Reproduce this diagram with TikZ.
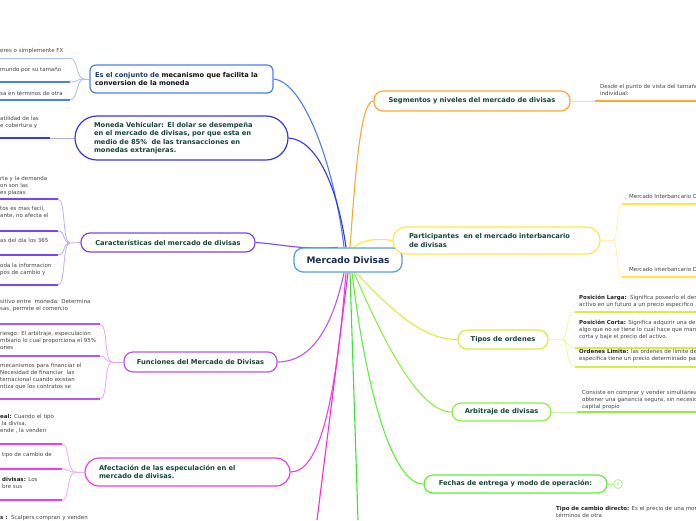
\documentclass[tikz,border=0pt]{standalone}
\usepackage{fontspec}
\setmainfont{DejaVu Sans}
\usetikzlibrary{backgrounds}
\definecolor{boxtext}{HTML}{17463A}
\definecolor{itemtext}{HTML}{444444}
\definecolor{cc}{HTML}{5AA0D8}
\definecolor{cnavy}{HTML}{1B2B55}
\definecolor{ces}{HTML}{4A7EF5}
\definecolor{cesl}{HTML}{A8BEF8}
\definecolor{cmon}{HTML}{3535EC}
\definecolor{cmonl}{HTML}{B0B0F5}
\definecolor{ccar}{HTML}{7D45EE}
\definecolor{ccarl}{HTML}{C4A8F8}
\definecolor{cfun}{HTML}{BB55F0}
\definecolor{cfunl}{HTML}{E2A8F8}
\definecolor{caf}{HTML}{EE3CEE}
\definecolor{cafl}{HTML}{F8A8F8}
\definecolor{cmag}{HTML}{FF2AD0}
\definecolor{cgr}{HTML}{33E833}
\definecolor{cfe}{HTML}{5EF03A}
\definecolor{cfel}{HTML}{A8F890}
\definecolor{car}{HTML}{8EF03E}
\definecolor{carl}{HTML}{C8F8A8}
\definecolor{cti}{HTML}{D4F03C}
\definecolor{ctil}{HTML}{EAF8A8}
\definecolor{cpa}{HTML}{FFE844}
\definecolor{cpal}{HTML}{FFF2A8}
\definecolor{cse}{HTML}{FFA830}
\definecolor{csel}{HTML}{FFD8A0}
\tikzset{
  box/.style={draw, rounded corners=9pt, line width=1.2pt, fill=white,
    font=\fontsize{6.7}{8.3}\selectfont\bfseries, text=boxtext,
    inner xsep=5pt, inner ysep=0pt, align=center},
  cbox/.style={draw=cc, rounded corners=9pt, line width=1.3pt, fill=white,
    font=\fontsize{9}{11}\selectfont\bfseries, text=cnavy,
    minimum width=108pt, minimum height=24pt, inner sep=0pt},
  itm/.style={anchor=north west, inner sep=0pt, align=left,
    font=\fontsize{5.5}{7}\selectfont, text=itemtext},
  conn/.style={line width=1.1pt},
  sub/.style={line width=0.8pt},
  thk/.style={line width=2pt},
}
\begin{document}
\begin{tikzpicture}[x=1pt,y=-1pt]
\useasboundingbox (0,0) rectangle (696,520);
\clip (0,0) rectangle (696,520);

% ---------- nodes ----------
\node[cbox] (c) at (348,260) {Mercado Divisas};

\node[box, draw=ces, rounded corners=6pt, text width=173pt, minimum height=28pt, align=left] (es) at (181.5,79)
  {\textcolor[HTML]{1A3F6B}{Es el conjunto de} \textcolor[HTML]{111111}{mecanismo que facilita la}\\\textcolor[HTML]{111111}{conversion de la moneda}};
\node[box, draw=cmon, rounded corners=22pt, inner xsep=19pt, text width=175pt, minimum height=44pt, align=left] (mon) at (181.5,138)
  {Moneda Vehicular: El dolar se desempeña\\en el mercado de divisas, por que esta en\\medio de 85\%\ \ de las transacciones en\\monedas extranjeras.};
\node[box, draw=ccar, text width=164pt, minimum height=19pt] (car) at (168,242.5)
  {Características del mercado de divisas};
\node[box, draw=cfun, text width=143pt, minimum height=20pt] (fun) at (200.5,362)
  {Funciones del Mercado de Divisas};
\node[box, draw=caf, rounded corners=14pt, inner xsep=14pt, text width=177pt, minimum height=28pt, align=left] (af) at (187.5,472)
  {Afectación de las especulación en el\\mercado de divisas.};
\node[box, draw=cse, text width=186pt, minimum height=20pt] (se) at (472,101)
  {Segmentos y niveles del mercado de divisas};
\node[box, draw=cpa, rounded corners=13pt, inner xsep=16pt, text width=175pt, minimum height=27pt, align=left] (pa) at (496.5,240.5)
  {Participantes\ \ en el mercado interbancario\\de divisas};
\node[box, draw=cti, text width=80pt, minimum height=19pt] (ti) at (503,339.5)
  {Tipos de ordenes};
\node[box, draw=car, text width=89pt, minimum height=18pt] (ar) at (501.5,412)
  {Arbitraje de divisas};
\node[box, draw=cfe, text width=173pt, minimum height=18pt] (fe) at (515.5,484)
  {Fechas de entrega y modo de operación:};
\node[circle, draw=cfel, line width=0.8pt, fill=white, minimum size=9pt, inner sep=0pt,
  font=\fontsize{4}{4}\selectfont\bfseries, text=cfel] (fc) at (618,484) {8};

% ---------- main connectors ----------
\coordinate (endm) at (317,520);
\coordinate (endg) at (358,520);
\begin{scope}[on background layer]
\draw[conn, ces] ([xshift=-4pt]c.north) .. controls (335,170) and (305,82) .. (es.east);
\draw[conn, cmon] ([xshift=-2pt]c.north) .. controls (338,190) and (318,140) .. (mon.east);
\draw[conn, ccar] ([xshift=-10pt]c.north) .. controls (300,250) and (280,244) .. (car.east);
\draw[conn, cfun] ([xshift=-4pt]c.south) .. controls (332,330) and (310,362) .. (fun.east);
\draw[conn, caf] ([xshift=-2pt]c.south) .. controls (336,400) and (320,472) .. (af.east);
\draw[conn, cmag] (c.south) -- (endm);
\draw[conn, cgr] ([xshift=2pt]c.south) -- (endg);
\draw[conn, cfe] ([xshift=4pt]c.south) .. controls (366,390) and (392,484) .. (fe.west);
\draw[conn, car] ([xshift=6pt]c.south) .. controls (385,345) and (420,412) .. (ar.west);
\draw[conn, cti] ([xshift=8pt]c.south) .. controls (400,320) and (428,339.5) .. (ti.west);
\draw[conn, cpa] ([xshift=6pt]c.north) .. controls (362,240) and (375,238) .. (pa.west);
\draw[conn, cse] ([xshift=2pt]c.north) .. controls (355,180) and (360,101) .. (se.west);
\draw[sub, cfel] (fe.east) -- (fc.west);
\end{scope}

% ---------- Es el conjunto ----------
\coordinate (ej) at (84,79);
\coordinate (e1) at (70,58); \coordinate (e1l) at (0,58);
\coordinate (e2) at (70,82); \coordinate (e2l) at (0,82);
\coordinate (e3) at (70,100); \coordinate (e3l) at (0,100);
\draw[sub, cesl] (es.west) -- (ej);
\foreach \n in {e1,e2,e3}{\draw[sub, cesl] (ej) .. controls (76,79) and (78,0|-\n) .. (\n);}
\draw[sub, cesl] (e1) -- (e1l);
\draw[thk, ces] (e2) -- (e2l);
\draw[thk, ces] (e3) -- (e3l);
\node[itm] (et1) at (0,48) {eres o simplemente FX};
\node[itm] (et2) at (0,67) {mundo por su tamaño};
\node[itm] (et3) at (0,90.5) {sa en términos de otra};

% ---------- Moneda ----------
\coordinate (m1) at (50,138); \coordinate (m1l) at (0,138);
\draw[sub, cmonl] (mon.west) -- (m1);
\draw[thk, cmon] (m1) -- (m1l);
\node[itm] (mt1) at (0,116.5) {atilidad de las\\e cobertura y};

% ---------- Caracteristicas ----------
\coordinate (cj) at (70,243);
\coordinate (c1) at (58,199); \coordinate (c1l) at (0,199);
\coordinate (c2) at (58,231); \coordinate (c2l) at (0,231);
\coordinate (c3) at (58,255); \coordinate (c3l) at (0,255);
\coordinate (c4) at (58,285); \coordinate (c4l) at (0,285);
\draw[sub, ccarl] (car.west) -- (cj);
\foreach \n in {c1,c2,c3,c4}{
  \draw[sub, ccarl] (cj) .. controls (62,243) and (66,0|-\n) .. (\n);
  \draw[thk, ccar] (\n) -- (\n l);}
\node[itm] (ct1) at (0,176.5) {rta y la demanda\\on son las\\es plazas};
\node[itm] (ct2) at (0,206.5) {tos es mas facil,\\ante, no afecta el};
\node[itm] (ct3) at (0,238.5) {as del dia los 365};
\node[itm] (ct4) at (0,263.5) {oda la informacion\\pos de cambio y};

% ---------- Funciones ----------
\coordinate (fj) at (112,362);
\coordinate (f1) at (100,324); \coordinate (f1l) at (0,324);
\coordinate (f2) at (100,356); \coordinate (f2l) at (0,356);
\coordinate (f3) at (100,399); \coordinate (f3l) at (0,399);
\draw[sub, cfunl] (fun.west) -- (fj);
\foreach \n in {f1,f2,f3}{
  \draw[sub, cfunl] (fj) .. controls (104,362) and (108,0|-\n) .. (\n);
  \draw[thk, cfun] (\n) -- (\n l);}
\node[itm] (ft1) at (0,299.5) {sitivo entre\ \ moneda: Determina\\sas, permite el comercio};
\node[itm] (ft2) at (0,330.5) {riesgo: El arbitraje, especulación\\mbiario lo cual proporciona el 95\%\\ones};
\node[itm] (ft3) at (0,363.5) {mecanismos para financiar el\\Necesidad de financiar\ \ las\\ternacional cuando existan\\ntiza que los contratos se};

% ---------- Afectacion ----------
\coordinate (aj) at (76,472);
\coordinate (a1) at (62,444); \coordinate (a1l) at (0,444);
\coordinate (a2) at (62,469); \coordinate (a2l) at (0,469);
\coordinate (a3) at (62,500); \coordinate (a3l) at (0,500);
\draw[sub, cafl] (af.west) -- (aj);
\foreach \n in {a1,a2,a3}{
  \draw[sub, cafl] (aj) .. controls (66,472) and (70,0|-\n) .. (\n);
  \draw[thk, caf] (\n) -- (\n l);}
\node[itm] (at1) at (0,414.5) {\textbf{\color[HTML]{222222}eal:} Cuando el tipo\\\ la divisa,\\ende , la venden};
\node[itm] (at2) at (2,452.5) {tipo de cambio de};
\node[itm] (at3) at (2,477.5) {\textbf{\color[HTML]{222222}divisas:} Los\\bre sus};
\node[itm] (at4) at (0,515.5) {\textbf{\color[HTML]{222222}s :}\ \ Scalpers compran y venden};

% ---------- Segmentos ----------
\coordinate (s1) at (595,101); \coordinate (s1r) at (696,101);
\draw[sub, csel] (se.east) -- (s1);
\draw[thk, cse] (s1) -- (s1r);
\node[itm] (st1) at (600,84.5) {Desde el punto de vista del tamaño\\individual:};

% ---------- Participantes ----------
\coordinate (pj) at (613,240.5);
\coordinate (p1) at (622,204); \coordinate (p1r) at (696,204);
\coordinate (p2) at (622,277); \coordinate (p2r) at (696,277);
\draw[sub, cpal] (pa.east) -- (pj);
\foreach \n in {p1,p2}{
  \draw[sub, cpal] (pj) .. controls (618,240.5) and (616,0|-\n) .. (\n);
  \draw[thk, cpa] (\n) -- (\n r);}
\node[itm] (pt1) at (629,194.5) {Mercado Interbancario D};
\node[itm] (pt2) at (629,267.5) {Mercado interbancario D};

% ---------- Tipos ----------
\coordinate (tj) at (562,339.5);
\coordinate (t1) at (575,312); \coordinate (t1r) at (696,312);
\coordinate (t2) at (575,348); \coordinate (t2r) at (696,348);
\coordinate (t3) at (575,367); \coordinate (t3r) at (696,367);
\draw[sub, ctil] (ti.east) -- (tj);
\foreach \n in {t1,t2,t3}{
  \draw[sub, ctil] (tj) .. controls (568,339.5) and (566,0|-\n) .. (\n);
  \draw[thk, cti] (\n) -- (\n r);}
\node[itm] (tt1) at (579,294.5) {\textbf{\color[HTML]{222222}Posición Larga:}\ \ Significa poseerlo el der\\activo en un futuro a un precio especifico};
\node[itm] (tt2) at (579,319.5) {\textbf{\color[HTML]{222222}Posición Corta:} Significa adquirir una der\\algo que no se tiene lo cual hace que man\\corta y baje el precio del activo.};
\node[itm] (tt3) at (579,349.5) {\textbf{\color[HTML]{222222}Ordenes Limite:} las ordenes de limite de\\especifica tiene un precio determinado par};

% ---------- Arbitraje ----------
\coordinate (r1) at (577,412); \coordinate (r1r) at (696,412);
\draw[sub, carl] (ar.east) -- (r1);
\draw[thk, car] (r1) -- (r1r);
\node[itm] (rt1) at (582,389.5) {Consiste en comprar y vender simultánea\\obtener una ganancia segura, sin necesid\\capital propio};

% ---------- bottom text ----------
\node[itm] (bt1) at (556,506.5) {\textbf{\color[HTML]{222222}Tipo de cambio directo:} Es el precio de una mon\\términos de otra};
\end{tikzpicture}
\end{document}
